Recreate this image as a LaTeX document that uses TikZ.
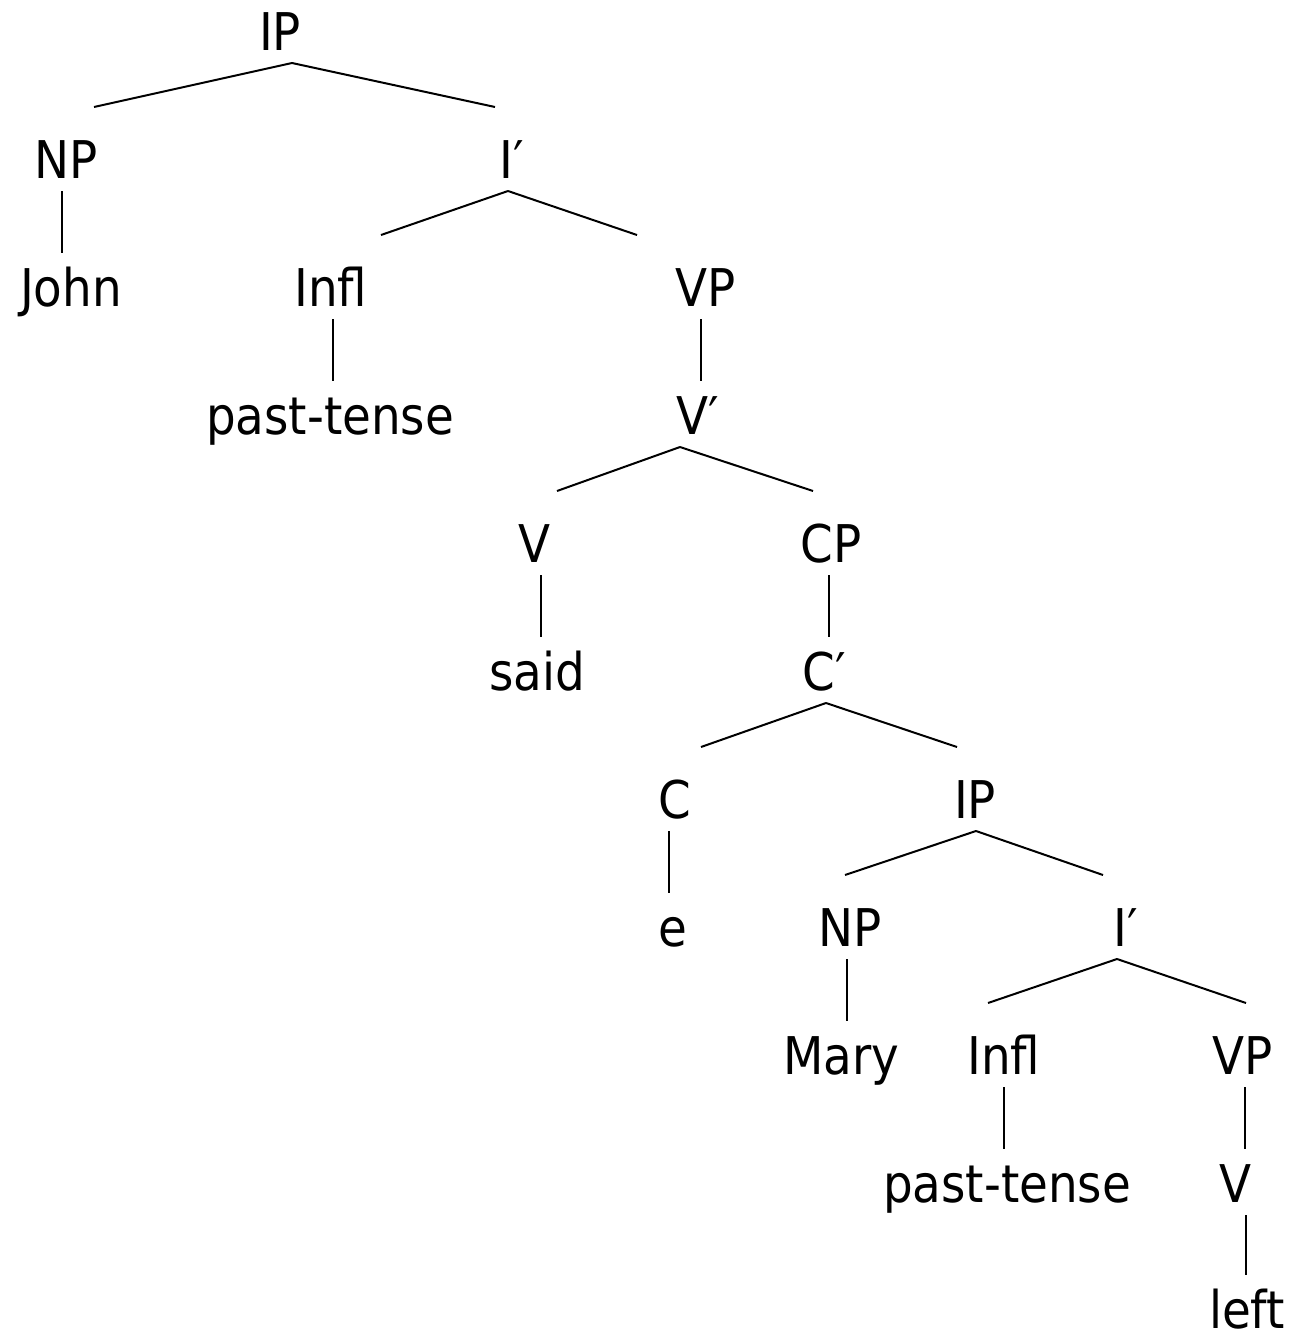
\documentclass[tikz,border=0pt]{standalone}
\usepackage{fontspec}
\setmainfont{DejaVu Sans Condensed}
\usepackage{tikz}
\usetikzlibrary{calc}
\tikzset{
	lab/.style={anchor=base, inner sep=0pt, text height=38pt, text depth=0pt,
		font=\fontsize{52}{60}\selectfont}
}
\newcommand{\mynode}[4][]{
	\node [lab] (#1) at (#2, #3) {#4};
}
\newcommand{\relation}[3][0pt]{
	% straight down, under the parent
	\path [draw] ($(#2.south)+(#1,-12pt)$) -- ($(#2.south |- #3.north)+(#1,14pt)$);
}
\newcommand{\branch}[4]{
	\path [draw] ($(#1.south)+(#3,-12pt)$) -- ($(#2.north)+(#4,32pt)$);
}

\begin{document}
\begin{tikzpicture}[x=1pt, y=-1pt, line width=2pt]
		\useasboundingbox (0,0) rectangle (1290,1336);
		\mynode[IPa]{280}{50}{IP}
		\mynode[NPa]{66}{178}{NP}
		\mynode[Ibar]{512}{178}{I′}
		\mynode[John]{71}{306}{John}
		\mynode[Infla]{331}{306}{Infl}
		\mynode[VPa]{706}{306}{VP}
		\mynode[pasta]{330}{434}{past-tense}
		\mynode[Vbar]{698}{434}{V′}
		\mynode[Va]{534}{562}{V}
		\mynode[CPa]{831}{562}{CP}
		\mynode[said]{537}{690}{said}
		\mynode[Cbar]{824}{690}{C′}
		\mynode[Ca]{675}{818}{C}
		\mynode[IPb]{975}{818}{IP}
		\mynode[e]{673}{946}{e}
		\mynode[NPb]{850}{946}{NP}
		\mynode[Ibarb]{1126}{946}{I′}
		\mynode[Mary]{841}{1074}{Mary}
		\mynode[Inflb]{1004}{1074}{Infl}
		\mynode[VPb]{1243}{1074}{VP}
		\mynode[pastb]{1007}{1202}{past-tense}
		\mynode[Vb]{1235}{1202}{V}
		\mynode[left]{1247}{1328}{left}
		% upper clause
		\branch{IPa}{NPa}{12pt}{28pt}
		\branch{IPa}{Ibar}{12pt}{-17pt}
		\relation[-4pt]{NPa}{John}
		\branch{Ibar}{Infla}{-4pt}{50pt}
		\branch{Ibar}{VPa}{-4pt}{-69pt}
		\relation[2pt]{Infla}{pasta}
		\relation[-5pt]{VPa}{Vbar}
		\branch{Vbar}{Va}{-18pt}{23pt}
		\branch{Vbar}{CPa}{-18pt}{-18pt}
		\relation[7pt]{Va}{said}
		\relation[-2pt]{CPa}{Cbar}
		% embedded clause
		\branch{Cbar}{Ca}{2pt}{26pt}
		\branch{Cbar}{IPb}{2pt}{-18pt}
		\relation[-6pt]{Ca}{e}
		\branch{IPb}{NPb}{1pt}{-5pt}
		\branch{IPb}{Ibarb}{1pt}{-23pt}
		\relation[-3pt]{NPb}{Mary}
		\branch{Ibarb}{Inflb}{-9pt}{-16pt}
		\branch{Ibarb}{VPb}{-9pt}{3pt}
		\relation{Inflb}{pastb}
		\relation[2pt]{VPb}{Vb}
		\relation[11pt]{Vb}{left}
\end{tikzpicture}
\end{document}
